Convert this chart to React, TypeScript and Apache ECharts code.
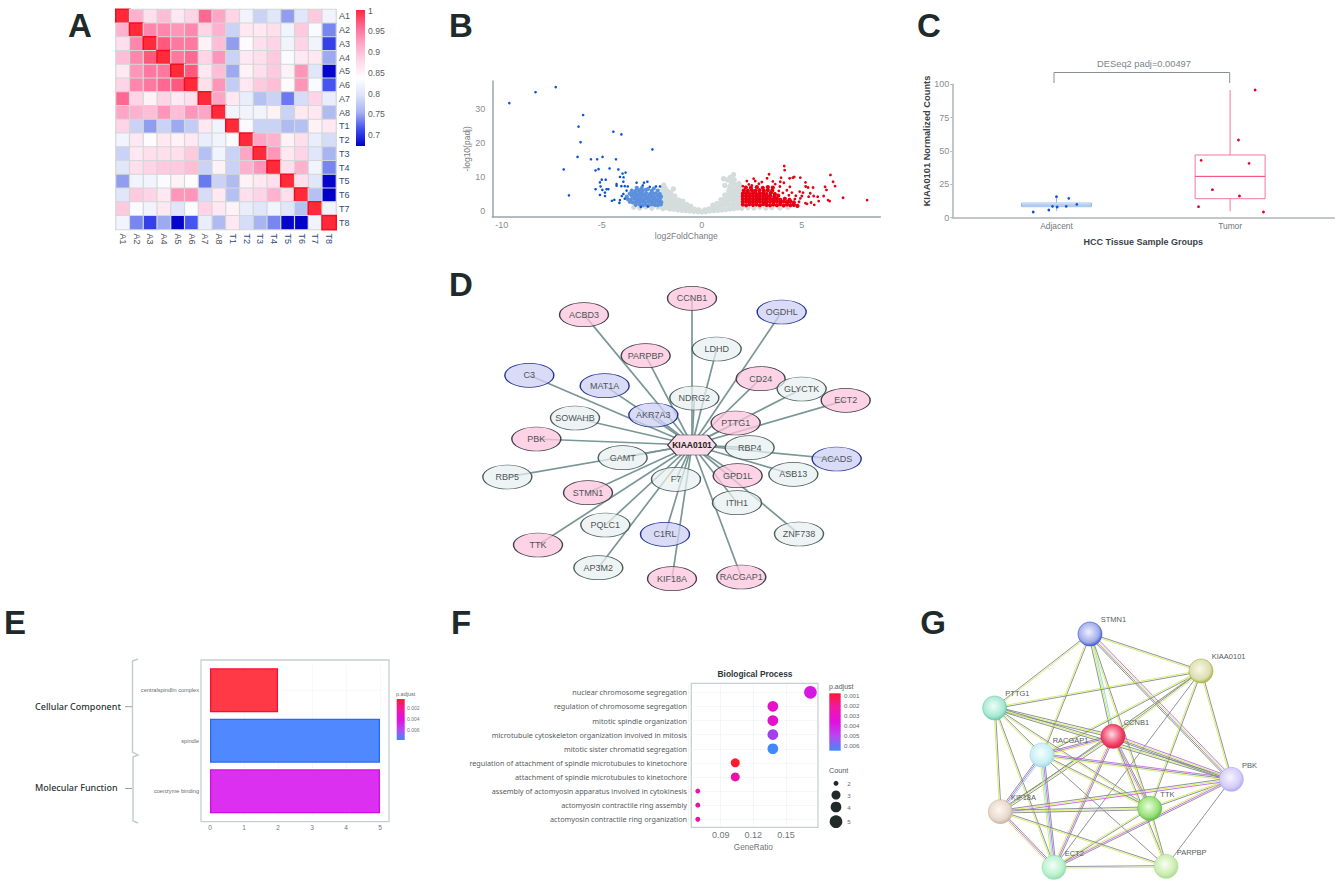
import React, { useEffect, useRef } from "react";
import * as echarts from "echarts";

const FONT = "Liberation Sans";

// ---------- A: correlation heatmap ----------
const sampleNames = ["A1","A2","A3","A4","A5","A6","A7","A8","T1","T2","T3","T4","T5","T6","T7","T8"];
const corrRows = [
  [1,.91,.87,.90,.86,.88,.96,.92,.88,.82,.78,.80,.745,.80,.89,.82],
  [.91,1,.94,.94,.93,.94,.88,.91,.78,.86,.86,.87,.82,.89,.83,.735],
  [.87,.94,1,.97,.95,.95,.85,.90,.745,.84,.87,.88,.82,.88,.82,.705],
  [.90,.94,.97,1,.95,.96,.88,.93,.78,.86,.87,.89,.83,.86,.86,.75],
  [.86,.93,.95,.95,1,.97,.86,.90,.75,.85,.87,.89,.85,.93,.80,.675],
  [.88,.94,.95,.96,.97,1,.87,.93,.775,.86,.89,.90,.84,.93,.83,.715],
  [.96,.88,.85,.88,.86,.87,1,.92,.86,.81,.765,.78,.73,.79,.88,.81],
  [.92,.91,.90,.93,.90,.93,.92,1,.82,.82,.82,.85,.78,.86,.86,.76],
  [.88,.78,.745,.78,.75,.775,.86,.82,1,.83,.78,.78,.76,.765,.85,.86],
  [.82,.86,.84,.86,.85,.86,.81,.82,.83,1,.92,.91,.85,.87,.81,.79],
  [.78,.86,.87,.87,.87,.89,.765,.82,.78,.92,1,.93,.86,.88,.80,.755],
  [.80,.87,.88,.89,.89,.90,.78,.85,.78,.91,.93,1,.87,.91,.82,.735],
  [.745,.82,.82,.83,.85,.84,.73,.78,.76,.85,.86,.87,1,.87,.80,.675],
  [.80,.89,.88,.86,.93,.93,.79,.86,.765,.87,.88,.91,.87,1,.765,.672],
  [.89,.83,.82,.86,.80,.83,.88,.86,.85,.81,.80,.82,.80,.765,1,.82],
  [.82,.735,.705,.75,.675,.715,.81,.76,.86,.79,.755,.735,.675,.672,.82,1],
];
const heatPalette = ["#0000c8","#4050f0","#a8b4f0","#dde3fa","#ffffff","#ffd8e8","#ffa8c8","#ff6a95","#ff2a3a"];
const heatTicks = ["1","0.95","0.9","0.85","0.8","0.75","0.7"];

// ---------- B: volcano ----------
const volcanoDownSparse = [[-9.62,31.7],[-8.31,34.9],[-7.3,36.4],[-5.93,28.2],[-6.16,24.8],[-6.06,20.2],[-6.21,15.9],[-6.9,12.2],[-6.64,4.6],[-4.42,23.3],[-4.02,22.5],[-2.47,18.1],[-5.54,15.2],[-5.23,15.2],[-4.96,15.9],[-4.29,15.2],[-5.31,11.9],[-5.16,12.3],[-4.61,12.5],[-4.17,12.2],[-3.81,11.3],[-3.96,11],[-4.09,10],[-3.91,9.9],[-5,9.2],[-4.8,9.2],[-5.09,8.4],[-4.26,7.9],[-4.26,7.4],[-3.92,8.6],[-3.26,8.3],[-2.89,8.3],[-2.72,8.6],[-2.29,7.2],[-2.09,7.2],[-5.31,6.4],[-5.06,7.2],[-4.97,6.2],[-4.76,6.4],[-4.67,6.4],[-4.84,5.4],[-5.09,4.7],[-4.84,4.4],[-4.49,3],[-4.37,3.3],[-3.85,7.3],[-3.76,6],[-4,4.4],[-4.09,3.2],[-4.12,2.4],[-3.92,5],[-3.85,3.6],[-4.02,7.3],[-3.7,7.2],[-2.95,7.5],[-2.6,7.1],[-3.05,1.2],[-2.7,1.3]];
const volcanoDownDense = [[-3.3,1.8],[-3.12,2],[-2.95,1.7],[-2.8,1.9],[-2.65,1.7],[-2.5,2],[-2.35,1.8],[-2.2,1.7],[-2.05,1.9],[-3.6,2.7],[-3.45,2.5],[-3.28,2.8],[-3.12,2.6],[-2.97,2.7],[-2.82,2.5],[-2.66,2.8],[-2.5,2.7],[-2.34,2.5],[-2.18,2.7],[-2.03,2.6],[-3.7,3.5],[-3.55,3.3],[-3.38,3.6],[-3.22,3.4],[-3.06,3.5],[-2.9,3.3],[-2.75,3.6],[-2.6,3.4],[-2.42,3.5],[-2.26,3.3],[-2.1,3.5],[-3.75,4.2],[-3.5,4.4],[-3.34,4.2],[-3.18,4.4],[-3.02,4.2],[-2.86,4.4],[-2.7,4.2],[-2.52,4.3],[-2.36,4.1],[-2.2,4.4],[-2.04,4.2],[-3.6,5.1],[-3.42,5.2],[-3.26,5],[-3.1,5.2],[-2.94,5],[-2.78,5.2],[-2.6,5],[-2.45,5.1],[-2.3,5.2],[-2.1,5],[-3.5,6],[-3.3,5.9],[-3.14,6.1],[-2.98,5.9],[-2.8,6.2],[-2.5,5.9],[-2.2,6],[-3.25,6.8],[-3,6.7],[-2.7,6.4],[-2.4,6.6]];
const volcanoUpSparse = [[8.26,3.2],[7.06,3.9],[6.66,7.3],[6.56,8.6],[6.43,10.6],[6.16,7.1],[6.23,6.2],[6.09,4.4],[6.31,3.2],[6.39,2.9],[5.79,4.2],[5.56,6.9],[5.31,6.9],[5.18,8.4],[5.19,7.2],[4.92,9.8],[5.42,5.2],[5.59,4.4],[5.34,4.2],[5.06,5.4],[5,4.4],[4.89,5.7],[4.92,3.7],[4.86,2.7],[5.26,2.1],[5.62,1.8],[5.84,2.9],[5.46,2.5],[5.18,2.3],[4.12,13.2],[4.14,12],[3.96,9.8],[3.92,8.6],[4.39,9.6],[4.62,10],[4.55,9.8],[3.36,10.8],[2.59,9.5],[2.67,8.8],[2.25,8.8],[3,8.5],[3.26,9.6],[3.67,7.9],[3.9,7.2],[4.1,8.3],[4.4,7.1],[3.55,8.7],[2.85,8],[2.35,7.8],[4.25,6.1],[4.5,5.4],[4.7,4.5],[3.85,5.9],[4.05,5.3],[4.35,4.6],[4.65,3.5],[2.05,7.3],[2.5,7.5]];
const volcanoUpDense = [[2.05,1.9],[2.22,1.7],[2.39,2],[2.56,1.8],[2.73,1.9],[2.9,1.7],[3.07,2],[3.24,1.8],[3.41,1.7],[3.58,1.9],[3.75,1.7],[3.92,2],[4.09,1.6],[4.26,1.9],[4.43,1.7],[4.6,1.8],[4.78,1.5],[2.05,2.7],[2.22,2.8],[2.39,2.6],[2.56,2.8],[2.73,2.6],[2.9,2.8],[3.07,2.7],[3.24,2.6],[3.41,2.8],[3.58,2.6],[3.75,2.8],[3.92,2.6],[4.09,2.8],[4.26,2.6],[4.43,2.8],[4.6,2.5],[2.05,3.5],[2.22,3.6],[2.39,3.4],[2.56,3.6],[2.73,3.4],[2.9,3.6],[3.07,3.5],[3.24,3.4],[3.41,3.6],[3.58,3.4],[3.75,3.6],[3.92,3.3],[4.15,3.6],[4.38,3.3],[2.05,4.3],[2.22,4.4],[2.39,4.2],[2.56,4.4],[2.73,4.2],[2.9,4.4],[3.07,4.3],[3.24,4.2],[3.41,4.4],[3.62,4.2],[3.82,4.5],[2.05,5.1],[2.22,5.2],[2.39,5],[2.56,5.2],[2.73,5],[2.9,5.2],[3.07,5.1],[3.24,5],[3.45,5.3],[3.65,5],[2.1,6],[2.3,5.9],[2.5,6.1],[2.68,5.9],[2.88,6.1],[3.1,5.9],[3.3,6.1],[3.52,6],[2.2,6.9],[2.45,6.8],[2.75,7],[3.05,6.8],[3.3,7],[3.55,6.9]];
const volcanoGrey = [[-3.4,1.1],[-3.1,.9],[-2.8,1.2],[-2.5,.8],[-2.2,1.1],[-1.95,.7],[-1.8,1],[-1.6,.6],[-1.4,.5],[-1.2,.3],[-1,.2],[-.8,.1],[-.6,0],[-.4,-.1],[-.2,-.2],[0,-.3],[.2,-.2],[.4,0],[.6,.1],[.8,.2],[1,.3],[1.2,.4],[1.4,.6],[1.6,.7],[1.8,.9],[2,.8],[2.3,1],[2.6,.9],[2.9,1.1],[3.2,.9],[3.5,1],[3.9,.9],[4.3,1.1],[-1.95,1.9],[-1.75,2],[-1.55,1.7],[-1.35,1.6],[-1.15,1.3],[-.95,1.1],[-.75,.9],[-.55,.7],[-.35,.5],[-.15,.3],[.15,.3],[.35,.6],[.55,.9],[.75,1.2],[.95,1.4],[1.15,1.7],[1.35,1.8],[1.55,1.9],[1.75,2],[1.95,1.8],[-1.95,3],[-1.75,3.1],[-1.55,2.8],[-1.35,2.6],[-1.15,2.4],[-.95,2.2],[-.75,1.9],[-.55,1.4],[.55,1.7],[.75,2.2],[.95,2.5],[1.15,2.8],[1.35,3],[1.55,3.1],[1.75,3.2],[1.95,3],[-1.95,4.1],[-1.75,4.2],[-1.55,3.9],[-1.35,3.7],[-1.15,3.2],[-.95,2.9],[.95,3.3],[1.15,3.8],[1.35,4.1],[1.55,4.2],[1.75,4.3],[1.95,4.1],[-1.95,5.2],[-1.75,5.2],[-1.55,4.8],[-1.35,4.4],[1.15,4.7],[1.35,5.2],[1.55,5.3],[1.75,5.4],[1.95,5.2],[-1.95,6.2],[-1.75,5.9],[-1.55,5.5],[1.35,6.1],[1.55,6.4],[1.75,6.3],[1.95,6.2],[-1.95,7.2],[-1.9,7.6],[-1.42,6.5],[-1.84,6.8],[1.15,7.5],[1.4,7.2],[1.6,7.9],[1.75,7.5],[1.45,8.6],[1.09,9.5],[1.42,9.9],[1.59,10.7],[1.28,9.1],[1.62,9.2],[1.9,7.3],[1.85,8.1]];

// ---------- C: box plot ----------
const boxGroups = ["Adjacent", "Tumor"];
const boxStats = [[1,5,8.25,9.5,11,16],[2,4.75,14.25,31,47,95.75]];
const adjacentPoints = [[.866,4.25],[.956,5.75],[.977,8.5],[1.004,8],[1.056,8.5],[1.117,10],[1,15.75],[1.071,14.5]];
const tumorPoints = [[2.144,95.75],[2.048,58.25],[1.833,43],[2.109,40.75],[1.898,21],[2.054,16.25],[1.818,8.25],[2.192,4.25]];

// ---------- D: KIAA0101 network ----------
const hubGene = "KIAA0101";
const upGenes = ["CCNB1","ACBD3","PARPBP","CD24","ECT2","PTTG1","PBK","GPD1L","STMN1","TTK","KIF18A","RACGAP1"];
const downGenes = ["OGDHL","C3","MAT1A","AKR7A3","ACADS","C1RL"];
const otherGenes = ["LDHD","GLYCTK","NDRG2","SOWAHB","RBP4","GAMT","RBP5","ASB13","F7","ITIH1","PQLC1","ZNF738","AP3M2"];
const geneLayout = {
  CCNB1:[666,55],ACBD3:[342,104],OGDHL:[935,96],PARPBP:[527,227],LDHD:[740,207],C3:[178,286],MAT1A:[404,317],CD24:[872,296],
  GLYCTK:[995,327],NDRG2:[673,354],ECT2:[1127,361],AKR7A3:[550,405],SOWAHB:[315,414],PTTG1:[797,429],PBK:[199,477],RBP4:[839,503],
  GAMT:[458,533],ACADS:[1100,537],RBP5:[112,591],ASB13:[970,583],GPD1L:[803,587],F7:[618,598],STMN1:[354,638],ITIH1:[801,668],
  PQLC1:[406,735],C1RL:[585,763],ZNF738:[987,762],TTK:[204,795],AP3M2:[385,863],KIF18A:[606,896],RACGAP1:[814,891],KIAA0101:[666,495],
};

// ---------- E: GO bars ----------
const goTerms = ["centralspindlin complex","spindle","coenzyme binding"];
const goCounts = [2,5,5];
const goFills = ["#ff3a46","#5088ff","#dc30f0"];
const goEdges = ["#ff0a30","#2a6ae8","#d010e0"];

// ---------- F: dot plot ----------
const bpTerms = ["nuclear chromosome segregation","regulation of chromosome segregation","mitotic spindle organization","microtubule cytoskeleton organization involved in mitosis","mitotic sister chromatid segregation","regulation of attachment of spindle microtubules to kinetochore","attachment of spindle microtubules to kinetochore","assembly of actomyosin apparatus involved in cytokinesis","actomyosin contractile ring assembly","actomyosin contractile ring organization"];
const bpRatio = [.1724,.1379,.1379,.1379,.1379,.1034,.1034,.069,.069,.069];
const bpCount = [5,4,4,4,4,3,3,2,2,2];
const bpPadj = [.0038,.0033,.0033,.0047,.0063,.001,.0028,.0028,.0028,.0028];
const countSizes = { 2: 5, 3: 9, 4: 10.7, 5: 12.7 };
const padjPalette = ["#ff1a30","#e010e0","#4088ff"];

// ---------- G: STRING network ----------
const stringGenes = ["STMN1","KIAA0101","PTTG1","CCNB1","RACGAP1","PBK","TTK","KIF18A","ECT2","PARPBP"];
const stringLayout = { STMN1:[390,72],KIAA0101:[723,183],PTTG1:[104,294],CCNB1:[459,379],RACGAP1:[246,435],PBK:[814,508],TTK:[569,595],KIF18A:[121,605],ECT2:[282,772],PARPBP:[618,769] };
const stringColors = { STMN1:["#eef0ff","#a0ace8","#3a50d0"],KIAA0101:["#f8f8e8","#dcdeb0","#a8ae40"],PTTG1:["#ecfff6","#a8e8d4","#68c8a8"],CCNB1:["#ffdce2","#f2406a","#e02040"],RACGAP1:["#f6ffff","#c8eef4","#a0d8e4"],PBK:["#f8f4ff","#d4ccfa","#b0a8f0"],TTK:["#e8ffdc","#98e078","#60b848"],KIF18A:["#fff8f2","#e8d8cc","#c8b0a0"],ECT2:["#f4fff8","#b8f0cc","#90dca8"],PARPBP:["#f8fff4","#ccecb0","#a8dc90"] };
const stringEdges = [
  ["STMN1","KIAA0101","gy"],["STMN1","PTTG1","yg"],["STMN1","RACGAP1","gy"],["STMN1","CCNB1","cyg"],["STMN1","PBK","mygg"],["STMN1","TTK","gy"],
  ["KIAA0101","PTTG1","gy"],["KIAA0101","RACGAP1","gy"],["KIAA0101","CCNB1","ygy"],["KIAA0101","KIF18A","g"],["KIAA0101","ECT2","g"],["KIAA0101","TTK","gy"],["KIAA0101","PBK","gy"],
  ["PTTG1","CCNB1","gyg"],["PTTG1","RACGAP1","gy"],["PTTG1","KIF18A","gy"],["PTTG1","ECT2","gy"],["PTTG1","TTK","gy"],["PTTG1","PBK","gyg"],
  ["CCNB1","RACGAP1","ymg"],["CCNB1","PBK","mygg"],["CCNB1","TTK","gmy"],["CCNB1","KIF18A","gyg"],["CCNB1","ECT2","gmy"],["CCNB1","PARPBP","gy"],
  ["RACGAP1","PBK","mgy"],["RACGAP1","TTK","gy"],["RACGAP1","KIF18A","cmg"],["RACGAP1","ECT2","gmcy"],["RACGAP1","PARPBP","g"],
  ["PBK","TTK","gy"],["PBK","KIF18A","myg"],["PBK","ECT2","gmy"],["PBK","PARPBP","g"],
  ["TTK","KIF18A","gyg"],["TTK","ECT2","gy"],["TTK","PARPBP","gy"],
  ["KIF18A","ECT2","gmy"],["KIF18A","PARPBP","gy"],["ECT2","PARPBP","gy"],
];
const trackColors = { g:"#80888f", y:"#d2ec60", m:"#c860e8", c:"#78e0e8" };

const panelLetters = [["A",80,25],["B",461,25],["C",929,25],["D",461,284],["E",15,622],["F",461,622],["G",933,622]];

const ELLIPSE = "path://M0,10 A10,10 0 1,1 20,10 A10,10 0 1,1 0,10 Z";
const HEXAGON = "path://M0,10 L3.6,0 L16.4,0 L20,10 L16.4,20 L3.6,20 Z";

function txt(text, x, y, fontSize, fill, extra = {}) {
  const { style, ...rest } = extra as any;
  return { type: "text", x, y, silent: true, ...rest, style: { text, fontSize, fill, fontFamily: FONT, align: "left", verticalAlign: "middle", ...(style || {}) } };
}
function colorBar(x, y, w, h, colors) {
  return { type: "rect", x, y, silent: true, shape: { x: 0, y: 0, width: w, height: h },
    style: { fill: { type: "linear", x: 0, y: 0, x2: 0, y2: 1, colorStops: colors.map((c, i) => ({ offset: i / (colors.length - 1), color: c })) } } };
}
function poly(points, stroke, lineWidth) {
  return { type: "polyline", silent: true, shape: { points }, style: { stroke, lineWidth, fill: "none" } };
}
function panelRect(x, y, w, h) {
  return { type: "rect", silent: true, shape: { x, y, width: w, height: h }, style: { fill: "none", stroke: "#c4d0d2", lineWidth: 1.3 } };
}

function buildOption() {
  const heatData = [];
  corrRows.forEach((row, r) => row.forEach((v, c) => {
    heatData.push(r === c
      ? { value: [c, r, v], itemStyle: { borderColor: "#f01020", borderWidth: 1.5 } }
      : { value: [c, r, v] });
  }));

  const nodeStyle = (name) => {
    if (name === hubGene) return { color: "#fddbe8", borderColor: "#333a40", borderWidth: 1 };
    if (upGenes.includes(name)) return { color: "rgba(252,196,220,.75)", borderColor: "#40404e", borderWidth: 1 };
    if (downGenes.includes(name)) return { color: "rgba(205,208,244,.75)", borderColor: "#24358f", borderWidth: 1 };
    return { color: "rgba(232,240,238,.72)", borderColor: "#4c5e5c", borderWidth: 1 };
  };
  const allGenes = [...upGenes, ...downGenes, ...otherGenes];
  const netNodes = [...allGenes, hubGene].map((name) => ({
    name, value: geneLayout[name],
    symbol: name === hubGene ? HEXAGON : ELLIPSE,
    symbolSize: name === hubGene ? [48.7, 20] : [49, 24],
    itemStyle: nodeStyle(name),
    label: { show: true, position: "inside", color: name === hubGene ? "#222" : "#4e5458", fontSize: name === hubGene ? 8.5 : 9, fontWeight: name === hubGene ? "bold" : "normal", fontFamily: FONT },
  }));
  const netLinks = allGenes.map((name) => ({ source: name, target: hubGene }));

  const tracks = [];
  stringEdges.forEach(([a, b, kinds]) => {
    [...kinds].forEach((k, i) => tracks.push({ a, b, color: trackColors[k], off: (i - (kinds.length - 1) / 2) * 1.4 }));
  });

  const gradientFor = (name) => {
    const [hi, mid, edge] = stringColors[name];
    return { type: "radial", x: .45, y: .42, r: .6, colorStops: [{ offset: 0, color: hi }, { offset: .72, color: mid }, { offset: 1, color: edge }] };
  };

  const padjBar = ["#ff1a30", "#f018a8", "#e010e0", "#b848f0", "#4088ff"];
  const elements = [
    ...panelLetters.map(([t, x, y]) => txt(t, x, y, 33, "#1f2b2b", { style: { fontWeight: "bold", align: "center" } })),
    colorBar(356, 10, 9, 136, [...heatPalette].reverse()),
    ...heatTicks.map((t, i) => txt(t, 368, 10.7 + i * 20.7, 8.6, "#555d66")),
    poly([[1054, 83], [1054, 72.5], [1229.7, 72.5], [1229.7, 83]], "#8a8f92", 1),
    txt("DESeq2 padj=0.00497", 1144, 64, 9.3, "#7d8488", { style: { align: "center" } }),
    txt("KIAA0101 Normalized Counts", 926.5, 141, 9.3, "#3a4248", { rotation: Math.PI / 2, style: { align: "center", fontWeight: "bold" } }),
    panelRect(201, 660, 188, 161.7),
    poly([[138, 659], [132.5, 661], [132.5, 752], [138, 755], [133, 757], [133, 821], [138, 823]], "#c2cacc", 1.4),
    poly([[125, 706.7], [132, 706.7]], "#9aa2a4", 1),
    poly([[125, 788.5], [132, 788.5]], "#9aa2a4", 1),
    txt("Cellular Component", 35, 706.7, 9, "#2c3434", { style: { fontFamily: "Noto Sans", fontWeight: 500 } }),
    txt("Molecular Function", 35, 787.7, 9, "#2c3434", { style: { fontFamily: "Noto Sans", fontWeight: 500 } }),
    txt("p.adjust", 396, 694, 5.5, "#666c70"),
    colorBar(396.7, 699, 8, 41, padjBar),
    ...[["0.002", 707.7], ["0.004", 719], ["0.006", 730]].map(([t, y]) => txt(t, 407, y, 5, "#70767a")),
    panelRect(691.3, 683.3, 126.7, 144),
    txt("Biological Process", 755, 674, 8.4, "#2e3638", { style: { align: "center", fontWeight: "bold" } }),
    txt("p.adjust", 829, 686, 7, "#555c60"),
    colorBar(829.3, 693.3, 11.4, 57.4, padjBar),
    ...["0.001", "0.002", "0.003", "0.004", "0.005", "0.006"].map((t, i) => txt(t, 844, 695.7 + i * 9.95, 6.2, "#666c70")),
    txt("Count", 829, 770, 7.2, "#555c60"),
    ...[["2", 2, 783.3], ["3", 3, 795], ["4", 4, 807], ["5", 5, 821.7]].flatMap(([t, c, y]) => [
      { type: "circle", silent: true, shape: { cx: 836, cy: y, r: countSizes[c] / 2 }, style: { fill: "#222a2a" } },
      txt(t, 847.3, y, 6.2, "#666c70"),
    ]),
  ];

  const hiddenAxis = (gridIndex, min, max, inverse = false) => ({ type: "value", gridIndex, min, max, inverse, show: false });
  const volcanoAxisLine = { show: true, onZero: false, lineStyle: { color: "#9aa6a8", width: 1.5 } };

  return {
    animation: false,
    backgroundColor: "#ffffff",
    textStyle: { fontFamily: FONT },
    graphic: { elements },
    visualMap: [
      { type: "continuous", show: false, seriesIndex: 0, dimension: 2, min: .672, max: 1, inRange: { color: heatPalette } },
      { type: "continuous", show: false, seriesIndex: 10, dimension: 3, min: .001, max: .0063, inRange: { color: padjPalette } },
    ],
    grid: [
      { left: 116, top: 9.5, width: 220, height: 220 },
      { left: 492.3, top: 81, width: 388, height: 135.7 },
      { left: 952.3, top: 84.3, width: 382, height: 133.4 },
      { left: 470, top: 280, width: 400, height: 310 },
      { left: 210, top: 665, width: 170, height: 151.5 },
      { left: 688, top: 685.3, width: 130.7, height: 141 },
      { left: 960, top: 610, width: 320, height: 275 },
    ],
    xAxis: [
      { type: "category", gridIndex: 0, data: sampleNames, axisLine: { show: false }, axisTick: { show: false }, splitArea: { show: false },
        axisLabel: { rotate: -90, fontSize: 9, margin: 4, color: (v) => (v[0] === "T" ? "#2f4a78" : "#4a4f55"), interval: 0 } },
      { type: "value", gridIndex: 1, min: -10.47, max: 8.92, name: "log2FoldChange", nameLocation: "middle", nameGap: 15, nameTextStyle: { color: "#777d80", fontSize: 8.6 },
        axisLine: volcanoAxisLine, axisTick: { show: false }, splitLine: { show: false }, axisLabel: { customValues: [-10, -5, 0, 5], color: "#888e90", fontSize: 9, margin: 4 } },
      { type: "value", gridIndex: 2, min: .4, max: 2.6, name: "HCC Tissue Sample Groups", nameLocation: "middle", nameGap: 20, nameTextStyle: { color: "#3a4248", fontSize: 9, fontWeight: "bold" },
        axisLine: { show: true, onZero: false, lineStyle: { color: "#aeb6b8", width: 1.5 } }, axisTick: { show: false }, splitLine: { show: false },
        axisLabel: { customValues: [1, 2], formatter: (v) => boxGroups[Math.round(v) - 1] || "", color: "#70767a", fontSize: 8.4, margin: 4 } },
      hiddenAxis(3, 0, 1200),
      { type: "value", gridIndex: 4, min: 0, max: 5, interval: 1, offset: 5, axisLine: { show: false }, axisTick: { show: false },
        splitLine: { show: true, lineStyle: { color: "#e8eeee", type: "dotted", width: .7 } }, axisLabel: { color: "#70767a", fontSize: 6.5, margin: 2 } },
      { type: "value", gridIndex: 5, min: .06, max: .18, interval: .03, axisLine: { show: false }, axisTick: { show: false },
        splitLine: { show: true, lineStyle: { color: "#e4eaea", type: "dotted", width: .8 } },
        axisLabel: { formatter: (v) => (Math.abs(v - .06) < 1e-6 || Math.abs(v - .18) < 1e-6 ? "" : v.toFixed(2)), color: "#70767a", fontSize: 9, margin: 4 },
        name: "GeneRatio", nameLocation: "middle", nameGap: 17, nameTextStyle: { color: "#70767a", fontSize: 8.2 } },
      hiddenAxis(6, 0, 960),
    ],
    yAxis: [
      { type: "category", gridIndex: 0, data: sampleNames, inverse: true, position: "right", axisLine: { show: false }, axisTick: { show: false }, splitArea: { show: false },
        axisLabel: { fontSize: 9, margin: 3, color: (v) => (v[0] === "T" ? "#2f4a78" : "#4a4f55"), interval: 0 } },
      { type: "value", gridIndex: 1, min: -1.68, max: 38.2, name: "-log10(padj)", nameLocation: "middle", nameGap: 11, nameTextStyle: { color: "#777d80", fontSize: 8.5 },
        axisLine: volcanoAxisLine, axisTick: { show: false }, splitLine: { show: false }, axisLabel: { customValues: [0, 10, 20, 30], color: "#888e90", fontSize: 9, margin: 7 } },
      { type: "value", gridIndex: 2, min: 0, max: 100, interval: 25, axisLine: { show: true, onZero: false, lineStyle: { color: "#aeb6b8", width: 1.5 } },
        axisTick: { show: true, length: 2, lineStyle: { color: "#aeb6b8" } }, splitLine: { show: false }, axisLabel: { color: "#888e90", fontSize: 9, margin: 3 } },
      hiddenAxis(3, 0, 930, true),
      { type: "category", gridIndex: 4, data: goTerms, inverse: true, axisLine: { show: false }, axisTick: { show: false },
        splitLine: { show: true, alignWithLabel: true, lineStyle: { color: "#e8eeee", type: "dotted", width: .7 } }, axisLabel: { color: "#666c70", fontSize: 5.6, margin: 11, interval: 0 } },
      { type: "category", gridIndex: 5, data: bpTerms, inverse: true, axisLine: { show: false }, axisTick: { show: false },
        splitLine: { show: true, alignWithLabel: true, lineStyle: { color: "#e4eaea", type: "dotted", width: .8 } }, axisLabel: { color: "#565c60", fontSize: 7.22, fontFamily: "Noto Sans", margin: 1, interval: 0 } },
      hiddenAxis(6, 0, 825, true),
    ],
    series: [
      { type: "heatmap", name: "Correlation", xAxisIndex: 0, yAxisIndex: 0, data: heatData, itemStyle: { borderColor: "#d4d8d8", borderWidth: 1.2 }, silent: true },
      { type: "scatter", name: "Not significant", xAxisIndex: 1, yAxisIndex: 1, data: volcanoGrey, symbolSize: 5.4, itemStyle: { color: "#d4dcdc", opacity: 1 }, silent: true },
      { type: "scatter", name: "Down dense", xAxisIndex: 1, yAxisIndex: 1, data: volcanoDownDense, symbolSize: 4.2, itemStyle: { color: "#5c90dc", opacity: 1 }, silent: true },
      { type: "scatter", name: "Down", xAxisIndex: 1, yAxisIndex: 1, data: volcanoDownSparse, symbolSize: 2.6, itemStyle: { color: "#0a55d0", opacity: 1 }, silent: true },
      { type: "scatter", name: "Up dense", xAxisIndex: 1, yAxisIndex: 1, data: volcanoUpDense, symbolSize: 4.2, itemStyle: { color: "#e60012", opacity: 1 }, silent: true },
      { type: "scatter", name: "Up", xAxisIndex: 1, yAxisIndex: 1, data: volcanoUpSparse, symbolSize: 2.8, itemStyle: { color: "#e60012", opacity: 1 }, silent: true },
      { type: "custom", name: "Boxes", xAxisIndex: 2, yAxisIndex: 2, data: boxStats, silent: true, clip: false,
        renderItem: (params, api) => {
          const x = api.value(0), lo = api.value(1), q1 = api.value(2), med = api.value(3), q3 = api.value(4), hi = api.value(5);
          const c = x === 1 ? "#9cbcec" : "#f2789c";
          const medC = x === 1 ? "#6c9ce4" : "#f03a70";
          const half = 35;
          const [cx, yQ3] = api.coord([x, q3]);
          const yQ1 = api.coord([x, q1])[1], yMed = api.coord([x, med])[1], yLo = api.coord([x, lo])[1], yHi = api.coord([x, hi])[1];
          const line = (x1, y1, x2, y2, stroke, w) => ({ type: "line", shape: { x1, y1, x2, y2 }, style: { stroke, lineWidth: w } });
          return { type: "group", children: [
            line(cx, yHi, cx, yQ3, c, 1), line(cx, yQ1, cx, yLo, c, 1),
            { type: "rect", shape: { x: cx - half, y: yQ3, width: half * 2, height: yQ1 - yQ3 }, style: { fill: "none", stroke: c, lineWidth: 1 } },
            line(cx - half, yMed, cx + half, yMed, medC, 1),
          ] };
        } },
      { type: "scatter", name: "Adjacent samples", xAxisIndex: 2, yAxisIndex: 2, data: adjacentPoints, symbolSize: 2.8, itemStyle: { color: "#0a55d0", opacity: 1 }, silent: true },
      { type: "scatter", name: "Tumor samples", xAxisIndex: 2, yAxisIndex: 2, data: tumorPoints, symbolSize: 2.8, itemStyle: { color: "#e60032", opacity: 1 }, silent: true },
      { type: "graph", name: "KIAA0101 network", coordinateSystem: "cartesian2d", xAxisIndex: 3, yAxisIndex: 3, layout: "none", data: netNodes, links: netLinks,
        lineStyle: { color: "#7a9696", width: 1.7, opacity: 1, curveness: 0 }, silent: true, roam: false },
      { type: "scatter", name: "Biological Process", xAxisIndex: 5, yAxisIndex: 5,
        data: bpTerms.map((t, i) => [bpRatio[i], t, bpCount[i], bpPadj[i]]), symbolSize: (v) => countSizes[v[2]], itemStyle: { opacity: 1 }, silent: true },
      { type: "bar", name: "GO terms", xAxisIndex: 4, yAxisIndex: 4, barWidth: 44, silent: true,
        data: goCounts.map((v, i) => ({ value: v, itemStyle: { color: goFills[i], borderColor: goEdges[i], borderWidth: 1.3 } })) },
      { type: "custom", name: "STRING edges", xAxisIndex: 6, yAxisIndex: 6, silent: true, clip: false,
        data: tracks.map((t) => [...stringLayout[t.a], ...stringLayout[t.b]]),
        renderItem: (params, api) => {
          const t = tracks[params.dataIndex];
          const p = api.coord([api.value(0), api.value(1)]);
          const q = api.coord([api.value(2), api.value(3)]);
          const dx = q[0] - p[0], dy = q[1] - p[1], L = Math.hypot(dx, dy) || 1;
          const nx = -dy / L * t.off, ny = dx / L * t.off;
          return { type: "line", shape: { x1: p[0] + nx, y1: p[1] + ny, x2: q[0] + nx, y2: q[1] + ny }, style: { stroke: t.color, lineWidth: .9 } };
        } },
      { type: "scatter", name: "STRING proteins", xAxisIndex: 6, yAxisIndex: 6, symbolSize: 24, silent: true,
        data: stringGenes.map((name) => ({ name, value: stringLayout[name],
          itemStyle: { color: gradientFor(name), opacity: 1, borderColor: stringColors[name][2], borderWidth: .6 } })),
        label: { show: true, formatter: (p) => p.name, position: [23, -2], align: "left", verticalAlign: "middle", fontSize: 7.5, color: "#555c60" } },
    ],
  };
}

export default function App() {
  const ref = useRef(null);
  useEffect(() => {
    const chart = echarts.init(ref.current, null, { renderer: "svg" });
    chart.setOption(buildOption());
    return () => chart.dispose();
  }, []);
  return <div ref={ref} style={{ position: "absolute", left: 0, top: 0, width: 1343, height: 891 }} />;
}
